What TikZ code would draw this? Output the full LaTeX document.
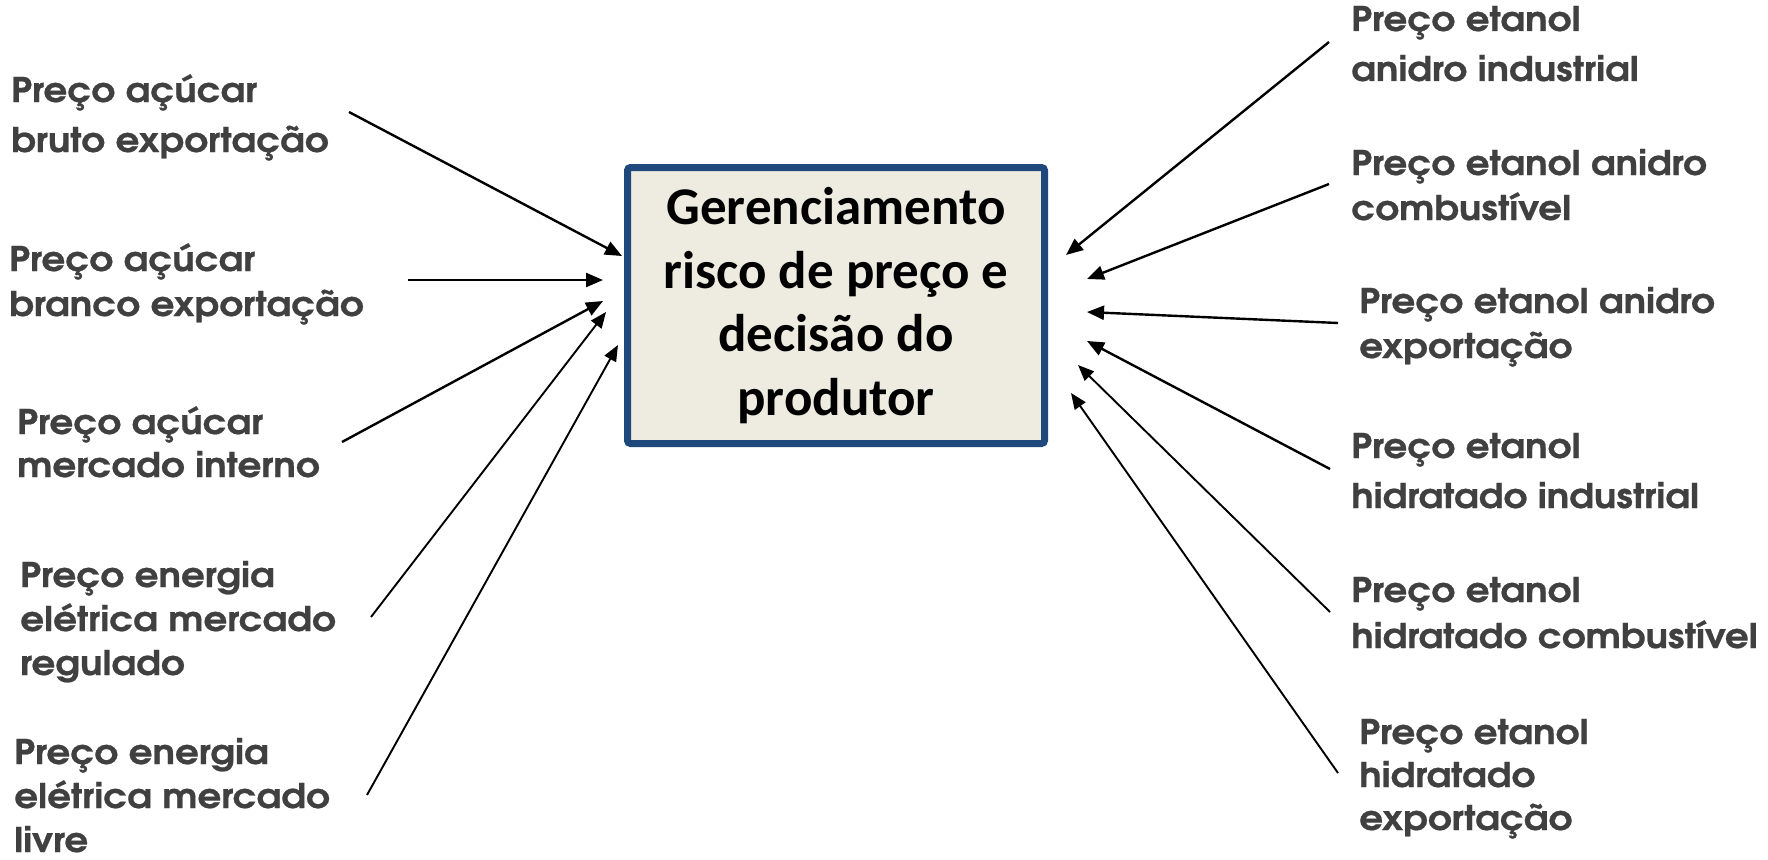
\documentclass[tikz,border=0pt]{standalone}
\usepackage{fontspec}
\setmainfont{Carlito}
\newfontfamily\gothic[FakeStretch=1.1, BoldFeatures={FakeBold=0.6}]{TeX Gyre Adventor}
\usetikzlibrary{arrows.meta}
\definecolor{labelgray}{HTML}{404040}
\definecolor{boxblue}{HTML}{1F497D}
\definecolor{boxfill}{HTML}{EEECE1}
\begin{document}
\begin{tikzpicture}[x=1pt,y=-1pt,
  lbl/.style={anchor=base west, align=left, inner sep=0pt, text=labelgray,
    font=\gothic\bfseries\fontsize{34}{#1}\selectfont},
  arr/.style={line width=2.4pt, -{Triangle[length=17pt,width=14pt]}},
  thinarr/.style={line width=1.9pt, -{Triangle[length=16pt,width=13pt]}},
  mainbox/.style={draw=boxblue, fill=boxfill, line width=7pt, rounded corners=3pt,
    minimum width=417pt, minimum height=276pt, inner sep=0pt, align=center,
    font=\bfseries\fontsize{53}{63.5}\selectfont}]
\useasboundingbox (0,0) rectangle (1768,859);
\fill[white] (0,0) rectangle (1768,859);

\node[mainbox] (box) at (836,305.5) {Gerenciamento\\risco de preço e\\decisão do\\produtor};

% left labels (anchored at the baseline of the last line)
\node[lbl=50] (l1) at (11,152) {Preço açúcar\\bruto exportação};
\node[lbl=45] (l2) at (9,316) {Preço açúcar\\branco exportação};
\node[lbl=43] (l3) at (17,477) {Preço açúcar\\mercado interno};
\node[lbl=44] (l4) at (20,675) {Preço energia\\elétrica mercado\\regulado};
\node[lbl=44] (l5) at (14,852) {Preço energia\\elétrica mercado\\livre};

% right labels
\node[lbl=50] (r1) at (1351,81) {Preço etanol\\anidro industrial};
\node[lbl=45] (r2) at (1351,220) {Preço etanol anidro\\combustível};
\node[lbl=45] (r3) at (1359,358) {Preço etanol anidro\\exportação};
\node[lbl=50] (r4) at (1351,508) {Preço etanol\\hidratado industrial};
\node[lbl=46] (r5) at (1351,648) {Preço etanol\\hidratado combustível};
\node[lbl=43] (r6) at (1359,830) {Preço etanol\\hidratado\\exportação};

% arrow ends
\coordinate (a1s) at (349,112); \coordinate (a1t) at (622,256);
\coordinate (a2s) at (408,280); \coordinate (a2t) at (603,280);
\coordinate (a3s) at (342,442); \coordinate (a3t) at (603,301);
\coordinate (a4s) at (371,617); \coordinate (a4t) at (606,312);
\coordinate (a5s) at (367,795); \coordinate (a5t) at (618,345);
\coordinate (b1s) at (1329,42);  \coordinate (b1t) at (1066,255);
\coordinate (b2s) at (1329,184); \coordinate (b2t) at (1087,279);
\coordinate (b3s) at (1338,323); \coordinate (b3t) at (1087,312);
\coordinate (b4s) at (1330,469); \coordinate (b4t) at (1087,341);
\coordinate (b5s) at (1330,612); \coordinate (b5t) at (1078,365);
\coordinate (b6s) at (1338,773); \coordinate (b6t) at (1071,393);

\draw[arr] (a1s) -- (a1t);
\draw[arr] (a2s) -- (a2t);
\draw[arr] (a3s) -- (a3t);
\draw[thinarr] (a4s) -- (a4t);
\draw[thinarr] (a5s) -- (a5t);
\draw[arr] (b1s) -- (b1t);
\draw[arr] (b2s) -- (b2t);
\draw[arr] (b3s) -- (b3t);
\draw[arr] (b4s) -- (b4t);
\draw[thinarr] (b5s) -- (b5t);
\draw[thinarr] (b6s) -- (b6t);
\end{tikzpicture}
\end{document}
